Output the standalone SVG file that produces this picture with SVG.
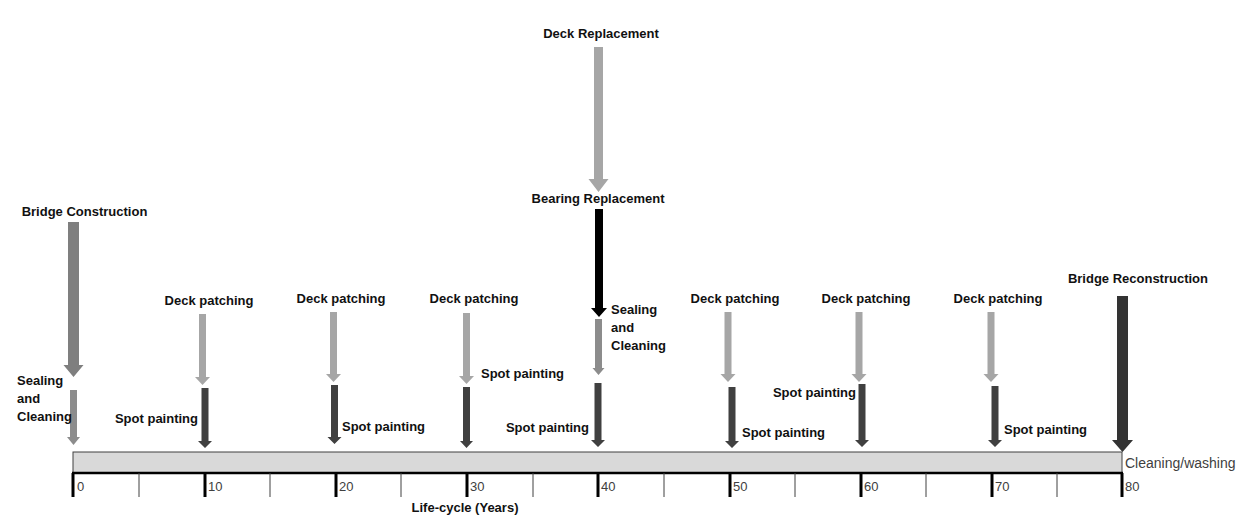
<svg xmlns="http://www.w3.org/2000/svg" width="1252" height="520" viewBox="0 0 1252 520">
<style>
.lb{font-family:"Liberation Sans",Arial,sans-serif;font-weight:bold;font-size:13px;fill:#111}
.nm{font-family:"Liberation Sans",Arial,sans-serif;font-size:13px;fill:#404040}
.cw{font-family:"Liberation Sans",Arial,sans-serif;font-size:14px;fill:#404040}
.mid{text-anchor:middle}
.end{text-anchor:end}
.light{fill:#a6a6a6}
.seal{fill:#8c8c8c}
.dark{fill:#404040}
.blk{fill:#000}
.con{fill:#7f7f7f}
.rec{fill:#333}
.maj{stroke:#000;stroke-width:3}
.min{stroke:#404040;stroke-width:1}
</style>
<rect width="1252" height="520" fill="#fff"/>
<g id="timeline">
<rect x="73" y="452" width="1049" height="21" fill="#d9d9d9" stroke="#404040" stroke-width="1"/>
<line x1="72" y1="473" x2="1123" y2="473" stroke="#000" stroke-width="2.5"/>
<line class="maj" x1="73" y1="473" x2="73" y2="497"/>
<line class="min" x1="139" y1="473" x2="139" y2="497"/>
<line class="maj" x1="205" y1="473" x2="205" y2="497"/>
<line class="min" x1="270" y1="473" x2="270" y2="497"/>
<line class="maj" x1="336" y1="473" x2="336" y2="497"/>
<line class="min" x1="401" y1="473" x2="401" y2="497"/>
<line class="maj" x1="467" y1="473" x2="467" y2="497"/>
<line class="min" x1="533" y1="473" x2="533" y2="497"/>
<line class="maj" x1="598" y1="473" x2="598" y2="497"/>
<line class="min" x1="664" y1="473" x2="664" y2="497"/>
<line class="maj" x1="730" y1="473" x2="730" y2="497"/>
<line class="min" x1="795" y1="473" x2="795" y2="497"/>
<line class="maj" x1="861" y1="473" x2="861" y2="497"/>
<line class="min" x1="926" y1="473" x2="926" y2="497"/>
<line class="maj" x1="992" y1="473" x2="992" y2="497"/>
<line class="min" x1="1057" y1="473" x2="1057" y2="497"/>
<line class="maj" x1="1122" y1="473" x2="1122" y2="497"/>
<text class="nm" x="77" y="491">0</text>
<text class="nm" x="208" y="491">10</text>
<text class="nm" x="339" y="491">20</text>
<text class="nm" x="470" y="491">30</text>
<text class="nm" x="601" y="491">40</text>
<text class="nm" x="733" y="491">50</text>
<text class="nm" x="864" y="491">60</text>
<text class="nm" x="995" y="491">70</text>
<text class="nm" x="1125" y="491">80</text>
<text class="cw" x="1125" y="468">Cleaning/washing</text>
<text class="lb mid" x="465" y="512">Life-cycle (Years)</text>
</g>
<g id="connectors">
<polygon class="con" points="68,222 79,222 79,365 83.5,365 73.5,377 63.5,365 68,365"/>
<polygon class="seal" points="70,390 77,390 77,437 80,437 73.5,445 67,437 70,437"/>
<polygon class="light" points="199,314 206,314 206,377 210,377 202.5,385 195,377 199,377"/>
<polygon class="dark" points="201.5,388 208.5,388 208.5,441 212,441 205,448 198,441 201.5,441"/>
<polygon class="light" points="330,312 337,312 337,374 341,374 333.5,382 326,374 330,374"/>
<polygon class="dark" points="331,385 338,385 338,437 341.5,437 334.5,444 327.5,437 331,437"/>
<polygon class="light" points="463,313 470,313 470,376 474,376 466.5,384 459,376 463,376"/>
<polygon class="dark" points="463,387 470,387 470,441 473,441 466.5,448 460,441 463,441"/>
<polygon class="light" points="594,47 603,47 603,179 608.5,179 598.5,192 588.5,179 594,179"/>
<polygon class="blk" points="595,209 603,209 603,308 607,308 599,317 591,308 595,308"/>
<polygon class="seal" points="595,319 602,319 602,368 604.5,368 598.5,375 592.5,368 595,368"/>
<polygon class="dark" points="594.5,383 601.5,383 601.5,440 605,440 598,447 591,440 594.5,440"/>
<polygon class="light" points="724.5,312 731.5,312 731.5,374 735.5,374 728,382 720.5,374 724.5,374"/>
<polygon class="dark" points="728.5,387 735.5,387 735.5,441 739,441 732,448 725,441 728.5,441"/>
<polygon class="light" points="855.5,312 862.5,312 862.5,374 866.5,374 859,382 851.5,374 855.5,374"/>
<polygon class="dark" points="858.5,384 865.5,384 865.5,440 869,440 862,447 855,440 858.5,440"/>
<polygon class="light" points="987.5,312 994.5,312 994.5,374 998.5,374 991,382 983.5,374 987.5,374"/>
<polygon class="dark" points="991.5,386 998.5,386 998.5,440 1002,440 995,447 988,440 991.5,440"/>
<polygon class="rec" points="1117,296 1128,296 1128,440 1133,440 1122.5,452 1112,440 1117,440"/>
</g>
<g id="bridge-construction"><text class="lb mid" x="84.5" y="216">Bridge Construction</text></g>
<g id="sealing-0"><text class="lb" x="17" y="385">Sealing</text><text class="lb" x="17" y="403">and</text><text class="lb" x="17" y="421">Cleaning</text></g>
<g id="deck-patching-10"><text class="lb mid" x="209" y="305">Deck patching</text></g>
<g id="spot-painting-10"><text class="lb end" x="198" y="423">Spot painting</text></g>
<g id="deck-patching-20"><text class="lb mid" x="341" y="303">Deck patching</text></g>
<g id="spot-painting-20"><text class="lb" x="342" y="431">Spot painting</text></g>
<g id="deck-patching-30"><text class="lb mid" x="474" y="303">Deck patching</text></g>
<g id="spot-painting-30"><text class="lb" x="481" y="378">Spot painting</text></g>
<g id="deck-replacement"><text class="lb mid" x="601" y="38">Deck Replacement</text></g>
<g id="bearing-replacement"><text class="lb mid" x="598" y="203">Bearing Replacement</text></g>
<g id="sealing-40"><text class="lb" x="611" y="314">Sealing</text><text class="lb" x="611" y="332">and</text><text class="lb" x="611" y="350">Cleaning</text></g>
<g id="spot-painting-40"><text class="lb end" x="589" y="432">Spot painting</text></g>
<g id="deck-patching-50"><text class="lb mid" x="735" y="303">Deck patching</text></g>
<g id="spot-painting-50"><text class="lb" x="742" y="437">Spot painting</text></g>
<g id="deck-patching-60"><text class="lb mid" x="866" y="303">Deck patching</text></g>
<g id="spot-painting-60"><text class="lb end" x="856" y="397">Spot painting</text></g>
<g id="deck-patching-70"><text class="lb mid" x="998" y="303">Deck patching</text></g>
<g id="spot-painting-70"><text class="lb" x="1004" y="434">Spot painting</text></g>
<g id="bridge-reconstruction"><text class="lb end" x="1208" y="283">Bridge Reconstruction</text></g>
</svg>
